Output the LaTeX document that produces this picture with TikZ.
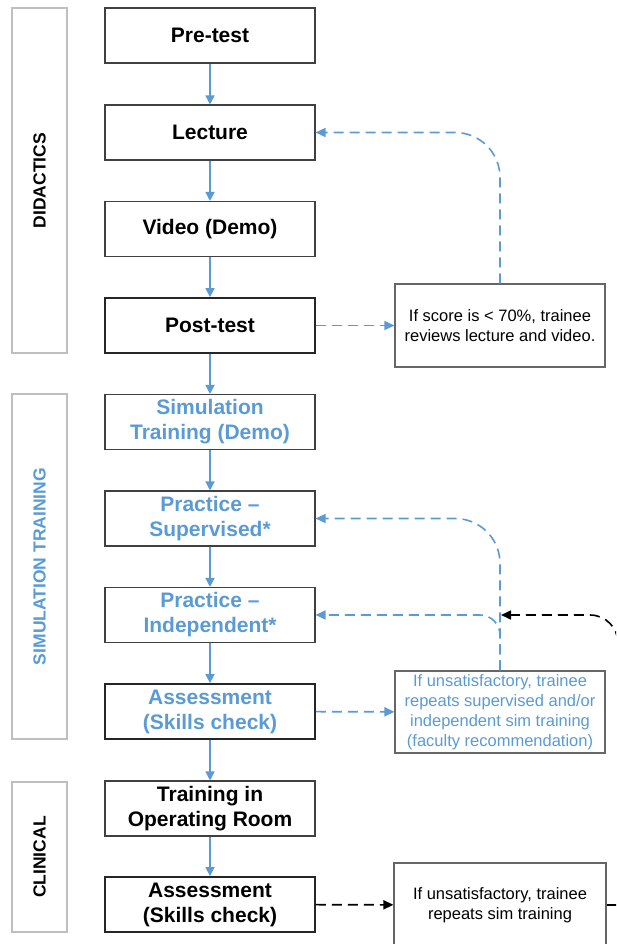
\documentclass[tikz,border=0pt]{standalone}
\usepackage{fontspec}
\setmainfont{Liberation Sans}
\usetikzlibrary{arrows.meta}
\definecolor{bl}{HTML}{5B9BD5}
\definecolor{bord}{HTML}{404040}
\definecolor{side}{HTML}{BFBFBF}
\begin{document}
\begin{tikzpicture}[x=1pt,y=-1pt,
  mainbox/.style={draw=bord, line width=1.1pt, fill=white, minimum width=210pt, minimum height=55pt,
    align=center, font=\fontsize{21}{25}\selectfont\bfseries, inner sep=0pt},
  thickbox/.style={mainbox, draw=black!85, line width=1.8pt},
  sidebox/.style={draw=side, line width=1.1pt, rotate=90, minimum height=55pt, inner sep=0pt,
    font=\fontsize{17.5}{20}\selectfont\bfseries},
  notebox/.style={draw=bord!80, line width=1.1pt, fill=white, minimum width=210pt, align=center,
    font=\fontsize{16.5}{20}\selectfont, inner sep=0pt},
  flow/.style={draw=bl, line width=1.5pt, -{Triangle[length=9pt,width=9pt]}},
  bdash/.style={draw=bl, line width=1.6pt, dash pattern=on 10pt off 6pt, -{Triangle[length=10pt,width=9pt]}},
  kdash/.style={draw=black, line width=1.6pt, dash pattern=on 10pt off 6pt},
  ktip/.style={-{Triangle[length=10pt,width=9pt]}}
]
\useasboundingbox (0,0) rectangle (616,944);
\clip (0,0) rectangle (616,944);
\fill[white] (0,0) rectangle (616,944);

% side boxes
\node[sidebox, minimum width=345pt, text=black] (didac) at (39.5,180.5) {DIDACTICS};
\node[sidebox, minimum width=345pt, text=bl] (simt) at (39.5,566.5) {SIMULATION TRAINING};
\node[sidebox, minimum width=150pt, text=black] (clin) at (39.5,857) {CLINICAL};

% main boxes
\node[mainbox] (pre) at (210,35.5) {Pre-test};
\node[mainbox] (lec) at (210,132.5) {Lecture};
\node[mainbox] (vid) at (210,229) {Video (Demo)};
\node[thickbox] (post) at (210,325.5) {Post-test};
\node[mainbox, text=bl] (sim) at (210,422) {Simulation\\Training (Demo)};
\node[mainbox, text=bl] (sup) at (210,518.5) {Practice --\\Supervised*};
\node[mainbox, text=bl] (ind) at (210,615) {Practice --\\Independent*};
\node[thickbox, text=bl] (as1) at (210,711.5) {Assessment\\(Skills check)};
\node[mainbox] (tor) at (210,808.5) {Training in\\Operating Room};
\node[thickbox] (as2) at (210,904.5) {Assessment\\(Skills check)};

% notes
\node[notebox, minimum height=83pt] (n1) at (500,325.5) {If score is < 70\%, trainee\\reviews lecture and video.};
\node[notebox, minimum height=82pt, text=bl] (n2) at (500,712) {If unsatisfactory, trainee\\repeats supervised and/or\\independent sim training\\(faculty recommendation)};
\node[notebox, minimum height=84pt, minimum width=212pt] (n3) at (500,905) {If unsatisfactory, trainee\\repeats sim training};

% main flow
\draw[flow] (pre) -- (lec);
\draw[flow] (lec) -- (vid);
\draw[flow] (vid) -- (post);
\draw[flow] (post) -- (sim);
\draw[flow] (sim) -- (sup);
\draw[flow] (sup) -- (ind);
\draw[flow] (ind) -- (as1);
\draw[flow] (as1) -- (tor);
\draw[flow] (tor) -- (as2);

% feedback loops
\draw[bdash] (post) -- (n1);
\draw[bdash, rounded corners=45pt] (n1.north) |- (lec.east);
\draw[bdash] (as1) -- (n2);
\draw[bdash, rounded corners=45pt] (n2.north) |- (sup.east);
\draw[bdash, rounded corners=20pt] (n2.north) |- (ind.east);

\coordinate (join) at (501,615);
\coordinate (c1) at (618,905);
\coordinate (c2) at (618,615);
\draw[kdash, ktip] (as2) -- (n3);
\draw[kdash] (n3.east) -- (c1) -- ([yshift=-40pt]c1);
\draw[kdash, ktip, rounded corners=28pt] ([yshift=-40pt]c1) -- (c2) -- (join);
\end{tikzpicture}
\end{document}
